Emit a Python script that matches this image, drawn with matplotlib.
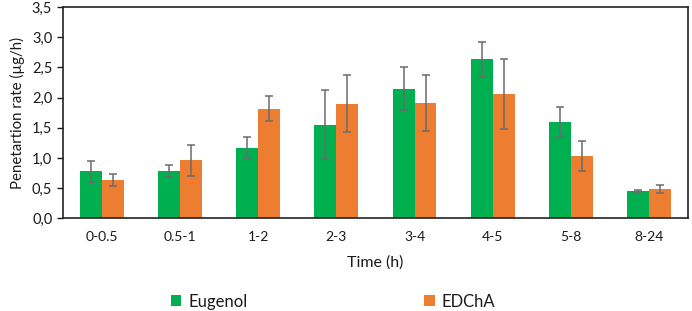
import matplotlib

matplotlib.use("Agg")
import matplotlib.pyplot as plt
import numpy as np
from matplotlib.patches import Patch
from matplotlib.ticker import FuncFormatter

plt.rcParams["font.family"] = ["Lato", "DejaVu Sans"]

categories = ["0-0.5", "0.5-1", "1-2", "2-3", "3-4", "4-5", "5-8", "8-24"]
eugenol = [0.78, 0.79, 1.17, 1.55, 2.15, 2.64, 1.59, 0.45]
eugenol_err = [0.17, 0.10, 0.17, 0.57, 0.36, 0.29, 0.25, 0.02]
edcha = [0.64, 0.96, 1.82, 1.90, 1.91, 2.06, 1.03, 0.49]
edcha_err = [0.10, 0.26, 0.20, 0.47, 0.47, 0.58, 0.25, 0.07]

green = "#00b050"
orange = "#ed7d31"
err_color = "#6b6b6b"
text_color = "#1a1a1a"

fig = plt.figure(figsize=(6.92, 3.11), dpi=100)
ax = fig.add_axes([0.0906, 0.298, 0.904, 0.679])

x = np.arange(len(categories))
w = 0.28
err_kw = dict(ecolor=err_color, elinewidth=1.1, capsize=3, capthick=1.1)
ax.bar(x - w / 2, eugenol, w, yerr=eugenol_err, color=green, error_kw=err_kw)
ax.bar(x + w / 2, edcha, w, yerr=edcha_err, color=orange, error_kw=err_kw)

ax.set_xlim(-0.5, len(categories) - 0.5)
ax.set_ylim(0, 3.5)
ax.set_yticks(np.arange(0, 3.51, 0.5))
ax.yaxis.set_major_formatter(FuncFormatter(lambda v, _: f"{v:.1f}".replace(".", ",")))
ax.set_xticks(x)
ax.set_xticklabels(categories)
ax.tick_params(axis="x", length=0, pad=9, labelsize=10, colors=text_color)
ax.tick_params(axis="y", length=4, width=1, labelsize=10.5, colors=text_color)

for side in ["left", "right", "top", "bottom"]:
    ax.spines[side].set_linewidth(1.2)
    ax.spines[side].set_color("#222222")

ax.set_xlabel("Time (h)", fontsize=11.5, color=text_color, labelpad=9)
ax.set_ylabel("Penetartion rate (µg/h)", fontsize=10.8, color=text_color, labelpad=5)

handles = [Patch(facecolor=green, label="Eugenol"), Patch(facecolor=orange, label="EDChA")]
fig.legend(handles=handles, loc="center", bbox_to_anchor=(0.481, 0.03), ncol=2,
           frameon=False, fontsize=12, handlelength=0.65, handleheight=0.65,
           handletextpad=0.4, columnspacing=10.6, labelcolor=text_color)

fig.savefig("out.png", dpi=100)
